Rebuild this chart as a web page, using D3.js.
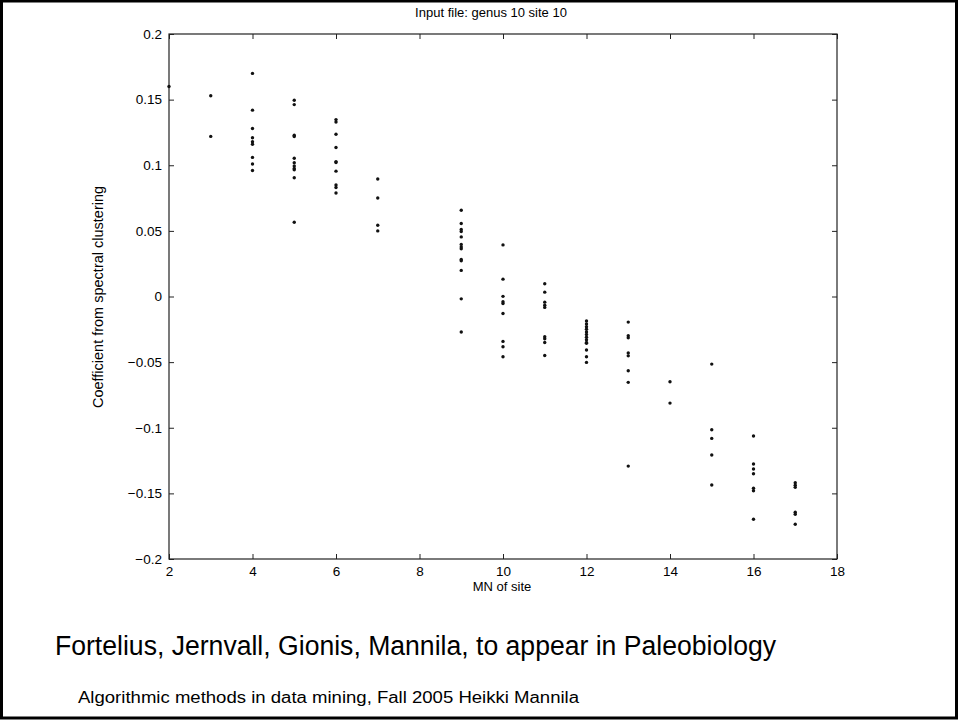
<!DOCTYPE html>
<meta charset="utf-8">
<style>
body { margin: 0; background: #fff; }
text { font-family: "Liberation Sans", Arial, sans-serif; fill: #000; }
</style>
<body>
<script src="https://cdn.jsdelivr.net/npm/d3@7"></script>
<script>
// DATA
var sites = [2, 3, 4, 5, 6, 7, 9, 10, 11, 12, 13, 14, 15, 16, 17];
var coef_2  = [0.16];
var coef_3  = [0.153, 0.122];
var coef_4  = [0.170, 0.142, 0.128, 0.121, 0.118, 0.116, 0.106, 0.101, 0.096];
var coef_5  = [0.1495, 0.1462, 0.1229, 0.1219, 0.1053, 0.102, 0.0995, 0.0975, 0.0965, 0.0905, 0.0566];
var coef_6  = [0.1348, 0.133, 0.1236, 0.1135, 0.1028, 0.1021, 0.0955, 0.085, 0.083, 0.0789];
var coef_7  = [0.0895, 0.0751, 0.0543, 0.050];
var coef_9  = [0.0657, 0.0556, 0.0511, 0.0495, 0.0454, 0.0397, 0.0378, 0.0363, 0.0282, 0.0272, 0.0199, -0.0018, -0.0271];
var coef_10 = [0.0393, 0.0132, 0.0001, -0.004, -0.0053, -0.0129, -0.0342, -0.0383, -0.0459];
var coef_11 = [0.0097, 0.0033, -0.0043, -0.0066, -0.0083, -0.0307, -0.0322, -0.035, -0.0449];
var coef_12 = [-0.0187, -0.021, -0.023, -0.025, -0.027, -0.029, -0.031, -0.033, -0.035, -0.0357, -0.0408, -0.0459, -0.0502];
var coef_13 = [-0.0195, -0.0299, -0.0315, -0.0431, -0.0452, -0.0566, -0.0654, -0.1292];
var coef_14 = [-0.065, -0.0812];
var coef_15 = [-0.0515, -0.1015, -0.1081, -0.1208, -0.1436];
var coef_16 = [-0.1063, -0.1276, -0.1314, -0.135, -0.1461, -0.148, -0.1697];
var coef_17 = [-0.1419, -0.1438, -0.1454, -0.1644, -0.1659, -0.1735];
var coefs = [coef_2, coef_3, coef_4, coef_5, coef_6, coef_7, coef_9, coef_10, coef_11,
             coef_12, coef_13, coef_14, coef_15, coef_16, coef_17];

var xTicks = [2, 4, 6, 8, 10, 12, 14, 16, 18];
var yTicks = [0.2, 0.15, 0.1, 0.05, 0, -0.05, -0.1, -0.15, -0.2];

// flatten into points
var points = [];
sites.forEach(function(s, i) {
  coefs[i].forEach(function(v) { points.push({ site: s, coef: v }); });
});

// CANVAS
var width = 958, height = 720;
var plotLeft = 169, plotRight = 837, plotTop = 34, plotBottom = 559;

var svg = d3.select("body").append("svg")
    .attr("width", width)
    .attr("height", height);

// slide border
svg.append("rect")
    .attr("x", 1.5).attr("y", 1)
    .attr("width", 955).attr("height", 717)
    .attr("fill", "none")
    .attr("stroke", "#000")
    .attr("stroke-width", 3);

var x = d3.scaleLinear().domain([2, 18]).range([plotLeft, plotRight]);
var y = d3.scaleLinear().domain([-0.2, 0.2]).range([plotBottom, plotTop]);

function fmt(d) { return d < 0 ? "\u2212" + Math.abs(d) : String(d); }

function styleAxis(g) {
  g.select(".domain").remove();
  g.selectAll(".tick line").attr("stroke", "#222");
  g.selectAll(".tick text")
    .attr("font-family", "Liberation Sans, Arial, sans-serif")
    .attr("font-size", 13.5)
    .attr("fill", "#000");
}

// axes, matlab style: ticks inward on all four sides
var tickLen = 5;
svg.append("g")
    .attr("transform", "translate(0," + plotBottom + ")")
    .call(d3.axisBottom(x).tickValues(xTicks).tickSizeInner(-tickLen).tickSizeOuter(0).tickPadding(7).tickFormat(fmt))
    .call(styleAxis);
svg.append("g")
    .attr("transform", "translate(0," + plotTop + ")")
    .call(d3.axisTop(x).tickValues(xTicks).tickSizeInner(-tickLen).tickSizeOuter(0).tickFormat(""))
    .call(styleAxis);
svg.append("g")
    .attr("transform", "translate(" + plotLeft + ",0)")
    .call(d3.axisLeft(y).tickValues(yTicks).tickSizeInner(-tickLen).tickSizeOuter(0).tickPadding(7).tickFormat(fmt))
    .call(styleAxis);
svg.append("g")
    .attr("transform", "translate(" + plotRight + ",0)")
    .call(d3.axisRight(y).tickValues(yTicks).tickSizeInner(-tickLen).tickSizeOuter(0).tickFormat(""))
    .call(styleAxis);

// plot box
svg.append("rect")
    .attr("x", plotLeft).attr("y", plotTop)
    .attr("width", plotRight - plotLeft).attr("height", plotBottom - plotTop)
    .attr("fill", "none")
    .attr("stroke", "#222")
    .attr("stroke-width", 1.2);

// points
svg.append("g").selectAll("circle")
    .data(points)
    .enter().append("circle")
    .attr("cx", function(d) { return x(d.site); })
    .attr("cy", function(d) { return y(d.coef); })
    .attr("r", 1.7)
    .attr("fill", "#111");

// TITLE + LABELS
svg.append("text")
    .text("Input file: genus 10 site 10")
    .attr("x", 491).attr("y", 17)
    .attr("text-anchor", "middle")
    .attr("font-size", 13);

svg.append("text")
    .text("MN of site")
    .attr("x", 502).attr("y", 591)
    .attr("text-anchor", "middle")
    .attr("font-size", 13);

svg.append("text")
    .text("Coefficient from spectral clustering")
    .attr("transform", "translate(103,297) rotate(-90)")
    .attr("text-anchor", "middle")
    .attr("font-size", 14.5);

// FOOTER
svg.append("text")
    .text("Fortelius, Jernvall, Gionis, Mannila, to appear in Paleobiology")
    .attr("x", 55).attr("y", 655)
    .attr("font-size", 27)
    .attr("textLength", 721)
    .attr("lengthAdjust", "spacingAndGlyphs");

svg.append("text")
    .text("Algorithmic methods in data mining, Fall 2005 Heikki Mannila")
    .attr("x", 78).attr("y", 703)
    .attr("font-size", 16)
    .attr("textLength", 501)
    .attr("lengthAdjust", "spacingAndGlyphs");
</script>
